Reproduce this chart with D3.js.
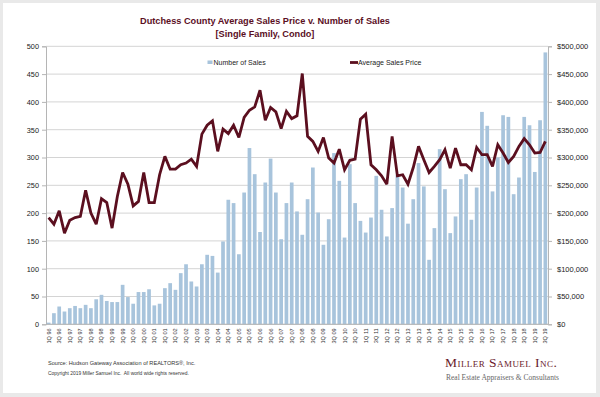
<!DOCTYPE html>
<html>
<head>
<meta charset="utf-8">
<script src="https://cdn.jsdelivr.net/npm/d3@7"></script>
<style>
  html, body { margin: 0; padding: 0; background: #e9e9e9; }
  svg { display: block; }
</style>
</head>
<body>
<svg id="chart" width="600" height="397"></svg>
<script>
const quarters = [
  "1Q 96","2Q 96","3Q 96","4Q 96","1Q 97","2Q 97","3Q 97","4Q 97",
  "1Q 98","2Q 98","3Q 98","4Q 98","1Q 99","2Q 99","3Q 99","4Q 99",
  "1Q 00","2Q 00","3Q 00","4Q 00","1Q 01","2Q 01","3Q 01","4Q 01",
  "1Q 02","2Q 02","3Q 02","4Q 02","1Q 03","2Q 03","3Q 03","4Q 03",
  "1Q 04","2Q 04","3Q 04","4Q 04","1Q 05","2Q 05","3Q 05","4Q 05",
  "1Q 06","2Q 06","3Q 06","4Q 06","1Q 07","2Q 07","3Q 07","4Q 07",
  "1Q 08","2Q 08","3Q 08","4Q 08","1Q 09","2Q 09","3Q 09","4Q 09",
  "1Q 10","2Q 10","3Q 10","4Q 10","1Q 11","2Q 11","3Q 11","4Q 11",
  "1Q 12","2Q 12","3Q 12","4Q 12","1Q 13","2Q 13","3Q 13","4Q 13",
  "1Q 14","2Q 14","3Q 14","4Q 14","1Q 15","2Q 15","3Q 15","4Q 15",
  "1Q 16","2Q 16","3Q 16","4Q 16","1Q 17","2Q 17","3Q 17","4Q 17",
  "1Q 18","2Q 18","3Q 18","4Q 18","1Q 19","2Q 19","3Q 19"
];

const numberOfSales = [
  3,20,32,23,29,33,29,35,29,45,53,42,40,40,71,49,37,58,58,63,34,37,65,74,62,92,108,77,68,108,125,
  123,93,149,224,218,126,237,317,270,166,255,298,237,153,218,255,203,161,225,282,201,143,189,308,258,156,288,218,186,165,192,267,
  206,158,209,268,246,181,225,290,248,116,173,315,243,164,194,261,270,188,246,382,357,239,300,376,373,234,264,373,358,274,367,489
];

const averageSalesPrice = [
  192000,180000,204000,164000,187000,192000,194000,241000,200000,180000,226000,219000,173000,230000,273000,252000,
  213000,221000,273000,219000,219000,269000,302000,279000,279000,287000,290000,297000,284000,342000,358000,
  366000,311000,351000,343000,358000,336000,372000,385000,391000,421000,367000,390000,382000,352000,383000,370000,
  375000,451000,338000,329000,311000,336000,299000,290000,315000,278000,295000,297000,369000,378000,287000,278000,
  267000,252000,338000,267000,269000,252000,282000,320000,296000,273000,284000,296000,314000,281000,317000,287000,
  287000,278000,318000,305000,305000,284000,323000,308000,291000,302000,320000,334000,323000,308000,309000,329000
];

const countTicks = [0,50,100,150,200,250,300,350,400,450,500];
const priceTicks = [0,50000,100000,150000,200000,250000,300000,350000,400000,450000,500000];

const titleLines = ["Dutchess County Average Sales Price v. Number of Sales", "[Single Family, Condo]"];
const seriesNames = ["Number of Sales", "Average Sales Price"];

(function () {
const svg = d3.select("#chart");
const maroon = "#5b0f1f";
const barColor = "#a8c4dc";

// card
svg.append("rect").attr("x", 3).attr("y", 3).attr("width", 593).attr("height", 390).attr("fill", "#ffffff");

const pLeft = 46, pRight = 548, pTop = 46.3, pBottom = 324.3;

const x = d3.scaleBand().domain(quarters).range([pLeft, pRight]).paddingInner(0.3).paddingOuter(0.15);
const y = d3.scaleLinear().domain([0, 500]).range([pBottom, pTop]);
const y2 = d3.scaleLinear().domain([0, 500000]).range([pBottom, pTop]);

// gridlines
svg.append("g").selectAll("line").data(countTicks).join("line")
  .attr("x1", pLeft).attr("x2", pRight)
  .attr("y1", d => y(d)).attr("y2", d => y(d))
  .attr("stroke", "#d4d4d4").attr("stroke-width", 1);

// left axis
const gl = svg.append("g").attr("transform", `translate(${pLeft},0)`)
  .call(d3.axisLeft(y).tickValues(countTicks).tickSize(4).tickPadding(3));
gl.select(".domain").attr("stroke", "#b5b5b5");
gl.selectAll(".tick line").attr("stroke", "#b5b5b5");
gl.selectAll("text").attr("font-family", "Liberation Sans, Arial, sans-serif").attr("font-size", 7.3).attr("fill", "#222");

// right axis
const gr = svg.append("g").attr("transform", `translate(${pRight},0)`)
  .call(d3.axisRight(y2).tickValues(priceTicks).tickSize(4).tickPadding(5)
    .tickFormat(d => "$" + d3.format(",")(d)));
gr.select(".domain").attr("stroke", "#b5b5b5");
gr.selectAll(".tick line").attr("stroke", "#b5b5b5");
gr.selectAll("text").attr("font-family", "Liberation Sans, Arial, sans-serif").attr("font-size", 7.5).attr("fill", "#222");

// bars
svg.append("g").selectAll("rect").data(quarters).join("rect")
  .attr("x", d => x(d))
  .attr("width", x.bandwidth())
  .attr("y", (d, i) => y(numberOfSales[i]))
  .attr("height", (d, i) => pBottom - y(numberOfSales[i]))
  .attr("fill", barColor);

// baseline
svg.append("line").attr("x1", pLeft).attr("x2", pRight).attr("y1", pBottom).attr("y2", pBottom)
  .attr("stroke", "#b5b5b5");

// line
const line = d3.line()
  .x((d, i) => x(quarters[i]) + x.bandwidth() / 2)
  .y(d => y2(d));
svg.append("path").datum(averageSalesPrice)
  .attr("d", line)
  .attr("fill", "none")
  .attr("stroke", maroon)
  .attr("stroke-width", 2.8)
  .attr("stroke-linejoin", "miter")
  .attr("stroke-miterlimit", 3);

// x axis labels
const gx = svg.append("g").attr("transform", `translate(0,${pBottom})`)
  .call(d3.axisBottom(x).tickValues(quarters.filter((q, i) => i % 2 === 0)).tickSize(0).tickPadding(0));
gx.select(".domain").remove();
gx.selectAll("text")
  .attr("font-family", "Liberation Sans, Arial, sans-serif")
  .attr("font-size", 5.6)
  .attr("fill", "#333")
  .attr("transform", "rotate(-90)")
  .attr("text-anchor", "end")
  .attr("x", -4)
  .attr("y", 0)
  .attr("dy", "0.35em");

// title
svg.append("g").selectAll("text").data(titleLines).join("text")
  .attr("x", 265).attr("y", (d, i) => 23.5 + i * 13)
  .attr("text-anchor", "middle")
  .attr("font-family", "Liberation Sans, Arial, sans-serif")
  .attr("font-weight", "bold")
  .attr("font-size", 9.2)
  .attr("fill", maroon)
  .text(d => d);

// legend
svg.append("rect").attr("x", 207.5).attr("y", 60.5).attr("width", 5).attr("height", 3.5).attr("fill", barColor);
svg.append("text").attr("x", 213.5).attr("y", 65)
  .attr("font-family", "Liberation Sans, Arial, sans-serif").attr("font-size", 7).attr("fill", "#222")
  .text(seriesNames[0]);
svg.append("line").attr("x1", 350).attr("x2", 358).attr("y1", 62.5).attr("y2", 62.5)
  .attr("stroke", maroon).attr("stroke-width", 2.8);
svg.append("text").attr("x", 358).attr("y", 65)
  .attr("font-family", "Liberation Sans, Arial, sans-serif").attr("font-size", 7).attr("fill", "#222")
  .text(seriesNames[1]);

// footer
svg.append("text").attr("x", 48).attr("y", 365)
  .attr("font-family", "Liberation Sans, Arial, sans-serif").attr("font-size", 5.6).attr("fill", "#333")
  .text("Source: Hudson Gateway Association of REALTORS®, Inc.");
svg.append("text").attr("x", 48).attr("y", 375)
  .attr("font-family", "Liberation Sans, Arial, sans-serif").attr("font-size", 4.9).attr("fill", "#333")
  .attr("xml:space", "preserve")
  .text("Copyright 2019 Miller Samuel Inc.  All world wide rights reserved.");

// logo
svg.append("text").attr("x", 445).attr("y", 367)
  .attr("font-family", "Liberation Serif, Times New Roman, serif").attr("font-size", 13.5)
  .attr("font-variant", "small-caps").attr("letter-spacing", 0.45)
  .attr("fill", "#6a1a2b")
  .text("Miller Samuel Inc.");
svg.append("text").attr("x", 446).attr("y", 379.5)
  .attr("font-family", "Liberation Serif, Times New Roman, serif").attr("font-size", 7.5)
  .attr("fill", "#666")
  .text("Real Estate Appraisers & Consultants");
})();
</script>
</body>
</html>
